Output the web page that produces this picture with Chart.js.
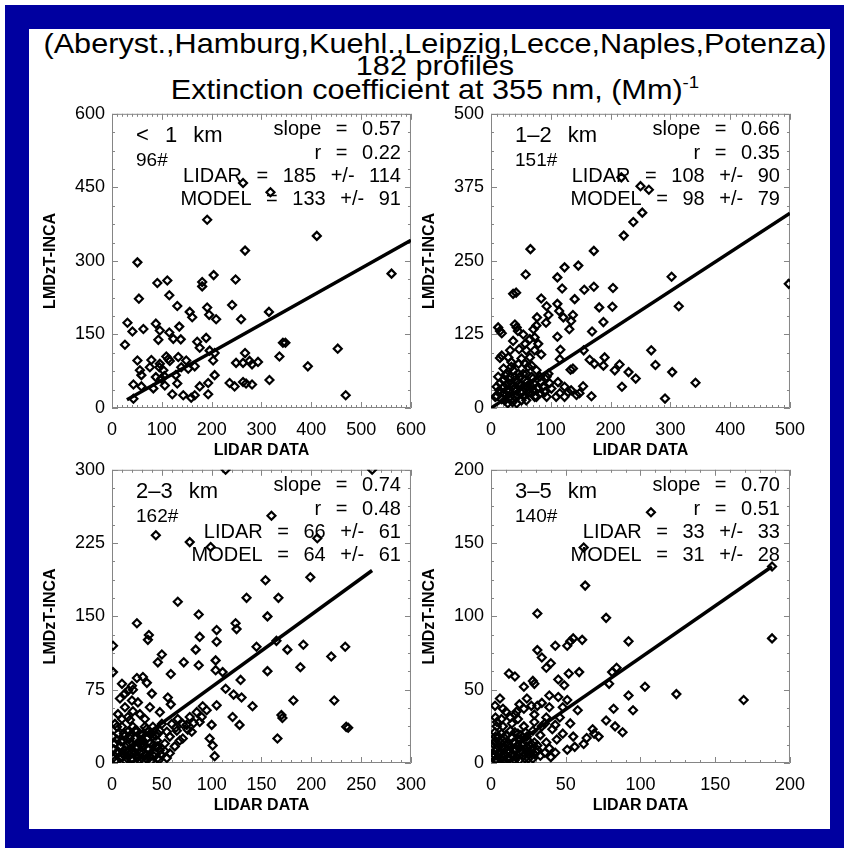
<!DOCTYPE html>
<html>
<head>
<meta charset="utf-8">
<script src="https://cdn.jsdelivr.net/npm/chart.js@4/dist/chart.umd.min.js"></script>
<style>
html,body{margin:0;padding:0;background:#fff;}
body{width:844px;height:848px;position:relative;overflow:hidden;font-family:"Liberation Sans",Arial,Helvetica,sans-serif;}
#blue{position:absolute;left:5px;top:5px;width:839px;height:843px;background:#0000a0;}
#white{position:absolute;left:29px;top:29px;width:801px;height:800px;background:#fff;}
.tl{position:absolute;left:435px;white-space:nowrap;font-size:28px;line-height:28px;color:#000;transform-origin:0 0;}
.tl sup{font-size:17px;vertical-align:11px;line-height:0;}
canvas{position:absolute;}
</style>
</head>
<body>
<div id="blue"></div>
<div id="white"></div>
<div class="tl" id="t1" style="top:30px">(Aberyst.,Hamburg,Kuehl.,Leipzig,Lecce,Naples,Potenza)</div>
<div class="tl" id="t2" style="top:52px">182 profiles</div>
<div class="tl" id="t3" style="top:76px">Extinction coefficient at 355 nm, (Mm)<sup>-1</sup></div>
<canvas id="c1" width="415" height="372" style="left:22px;top:96px"></canvas>
<canvas id="c2" width="415" height="372" style="left:401px;top:96px"></canvas>
<canvas id="c3" width="415" height="371" style="left:22px;top:452px"></canvas>
<canvas id="c4" width="415" height="371" style="left:401px;top:452px"></canvas>
<script>
// ---------------- data ----------------
const panelNames = ['< 1 km', '1\u20132 km', '2\u20133 km', '3\u20135 km'];
const profileCounts = ['96#', '151#', '162#', '140#'];
const slopes = ['0.57', '0.66', '0.74', '0.70'];
const corrs = ['0.22', '0.35', '0.48', '0.51'];
const lidarMean = [185, 108, 66, 33];
const lidarStd = [114, 90, 61, 33];
const modelMean = [133, 98, 64, 31];
const modelStd = [91, 79, 61, 28];

const xMaxs = [600, 500, 300, 200];
const xSteps = [100, 100, 50, 50];
const yMaxs = [600, 500, 300, 200];
const ySteps = [150, 125, 75, 50];

// panel 1 (< 1 km)
const lidar1 = [263,318,191,411,267,51,561,204,181,181,248,91,111,54,115,131,156,161,191,195,209,241,259,315,31,41,63,88,96,93,115,135,123,138,26,171,189,176,196,206,203,343,348,453,267,336,51,79,96,109,116,133,149,153,166,249,263,276,281,293,393,59,88,105,128,206,43,59,83,106,131,176,193,236,246,263,269,281,316,121,143,159,166,193,43,469,103,95,76,56,139,113,99];
const model1 = [459,440,384,351,321,297,274,271,257,248,262,255,260,223,230,208,196,185,205,190,181,210,181,196,174,156,161,172,158,139,154,166,141,140,129,135,143,123,117,112,97,133,133,121,112,105,97,98,90,105,96,104,97,80,85,92,92,96,89,94,85,67,63,65,67,67,48,44,40,46,50,44,51,51,44,53,50,48,57,28,26,21,26,28,19,26,77,83,83,77,83,100,60];
const fitX1 = [30, 600];
const fitY1 = [17, 342];

// panel 2 (1-2 km)
const lidar2 = [218,250,264,253,238,222,66,172,58,111,123,146,302,119,156,172,204,37,42,84,140,111,114,181,203,314,77,96,92,137,134,131,188,169,111,12,18,40,45,54,71,65,57,76,15,32,47,84,116,155,115,268,165,173,190,133,137,188,207,215,230,242,275,303,342,219,291,498,112,123,115,123,134,143,154,168,98,96,82,9.5,15,21,26,26,32,34,37,40,43,46,48,51,54,57,59,62,65,68,71,73,76,79,84,90,68,51,34,21,12,7,29,65,73,79,93,101,109,43,59,23,15,43,121,93,37,59,18,148,129,73,32,48,59,40,51,71,82,21,29,37,54,62,15,76,87,93,46,57,34,68,10,14,18,22,26,30,35,38,42,45,50,55,60,64,70,24,28,36];
const model2 = [392,377,371,332,316,293,270,267,227,222,239,242,223,203,201,206,204,194,196,186,185,177,165,171,172,173,154,158,145,158,148,134,146,130,121,137,127,142,131,125,134,117,109,140,85,98,100,91,99,98,83,98,82,75,86,65,67,72,64,74,61,50,73,61,43,36,16,211,44,36,25,19,30,22,37,20,42,58,53,36,25,47,58,30,19,42,64,53,30,75,42,25,58,47,36,70,27,53,42,19,64,33,44,27,72,84,78,67,53,19,86,86,98,109,53,33,19,8,13,13,131,137,154,173,114,98,89,25,27,120,53,53,58,19,13,30,25,36,42,39,36,25,42,19,36,19,58,75,70,36,20,30,15,26,40,28,16,32,45,22,38,20,44,32,50,55,8,10];
const fitX2 = [0, 500];
const fitY2 = [0, 331];

// panel 3 (2-3 km)
const lidar3 = [114,261,160,44,78,99,206,154,199,66,135,167,87,156,25,37,36,88,105,105,124,125,1,50,46,84,72,87,104,104,111,145,165,176,192,220,234,189,156,59,1,10,25,31,35,40,56,59,21,20,26,38,48,105,114,122,130,129,141,182,223,170,171,121,128,91,85,78,71,64,100,98,101,103,166,235,237,55,68,76,82,90,58,53,46,41,33,28,21,13,8,13,16,20,5,3,6,3,5,10,11,13,15,16,18,20,21,23,25,26,28,30,31,33,35,36,38,40,41,43,45,48,50,8,10,1,1,6,16,21,30,36,41,46,53,63,71,25,13,18,10,31,66,60,95,88,75,58,48,28,35,21,11,18,38,55,46,65,80,28,4,8,12,14,17,19,22,24,27,29,32,34,37,39,42,44,47,49,6,9,12,15,18,23,27,31,35,2,5,44];
const model3 = [300,300,253,233,226,221,230,187,190,165,169,169,152,150,143,131,126,129,136,124,143,137,120,111,103,116,103,100,105,95,93,119,125,116,121,109,119,98,94,91,93,81,87,88,82,71,67,60,75,64,62,57,52,59,76,70,67,85,58,64,64,49,46,47,39,58,52,47,40,36,39,25,18,7,25,37,36,32,23,34,41,47,10,20,30,37,45,50,53,57,66,71,74,79,37,40,30,20,10,37,23,13,5,32,20,10,37,25,15,6,30,20,10,37,25,15,6,30,18,10,23,13,40,17,6,5,27,50,47,13,5,32,27,5,12,17,25,33,28,44,45,18,45,40,54,42,39,27,33,10,4,4,10,25,20,5,17,33,32,23,3,5,8,2,12,4,9,16,3,12,22,8,14,2,7,17,3,9,12,22,30,18,28,33,20,29,35,14,24,28];
const fitX3 = [3, 261];
const fitY3 = [6, 197];

// panel 4 (3-5 km)
const lidar4 = [107,62,63,31,77,188,92,43,51,53,55,61,31,34,40,37,12,16,22,28,29,45,52,59,49,81,84,79,103,124,169,92,95,82,77,83,88,58,51,45,39,34,24,22,17,6,2.7,7,3,13,18,29,36,41,43,48,37,39,51,40,68,69,72,62,64,28,24,26,31,34,22,19,16,14,10,8,5,1.6,3.8,1.6,6,7,9,11.6,12.7,15,17,18,20.4,22.7,24,26,28,29,33,2.7,3.8,9,14,5,8,11.6,16,19,21.6,25,15,6,2.7,27,16,10,19,27,31,37,46,53,44,56,33,43,36,8,0.4,188,48,39,55,18,7,13,23,29,4,24,14,29,3,20,2,4,6,8,10,12,13,15,17,19,21,23,25,27,30,3,5,9,11,14,20,31];
const model4 = [171,147,121,102,99,85,83,80,80,83,85,84,77,72,68,65,61,59,52,56,54,57,61,62,53,62,65,54,52,47,43,46,36,37,29,25,21,36,43,45,46,41,44,37,35,44,39,30,31,31,30,33,27,23,26,20,14,10,9,4,23,20,18,13,17,22,18,12,9,25,25,16,21,27,19,25,18,13,9,4,3,11,6,13,3,9,4,12,8,3,11,7,3,14,5,21,25,14,17,6,2,9,2,10,5,15,14,14,2,9,33,35,40,39,39,31,31,27,16,11,19,7,7,37,11,134,38,38,18,20,20,22,21,28,28,8,6,6,18,16,6,2,8,4,1,7,11,5,9,2,12,6,3,13,8,15,11,17,3,1,19,12];
const fitX4 = [1, 188];
const fitY4 = [2, 134];

// ---------------- layout ----------------
const t1 = document.getElementById('t1');
const s = 783 / t1.getBoundingClientRect().width;
['t1','t2','t3'].forEach(id => {
  const el = document.getElementById(id);
  const w = el.getBoundingClientRect().width;
  el.style.transform = 'translateX(' + (-w * s / 2) + 'px) scaleX(' + s + ')';
});

const FONT = "'Liberation Sans', Arial, Helvetica, sans-serif";
const lidarSets = [lidar1, lidar2, lidar3, lidar4];
const modelSets = [model1, model2, model3, model4];
const fitXs = [fitX1, fitX2, fitX3, fitX4];
const fitYs = [fitY1, fitY2, fitY3, fitY4];
const xMinorDiv = [10, 10, 5, 5];
const yMinorDiv = [4, 4, 4, 4];

function makeFramePlugin(i) {
  return {
    id: 'idlFrame' + i,
    beforeDatasetsDraw(chart) {
      const {ctx, chartArea: a, scales} = chart;
      const xs = scales.x, ys = scales.y;
      ctx.save();
      ctx.strokeStyle = '#858585';
      ctx.lineWidth = 1;
      ctx.beginPath();
      ctx.rect(a.left + 0.5, a.top + 0.5, a.right - a.left - 1, a.bottom - a.top - 1);
      const xstep = xSteps[i] / xMinorDiv[i];
      const nx = Math.round(xMaxs[i] / xstep);
      for (let k = 0; k <= nx; k++) {
        const len = (k % xMinorDiv[i] === 0) ? 6 : 3;
        const p = Math.round(xs.getPixelForValue(k * xstep)) + 0.5;
        ctx.moveTo(p, a.bottom); ctx.lineTo(p, a.bottom - len);
        ctx.moveTo(p, a.top); ctx.lineTo(p, a.top + len);
      }
      const ystep = ySteps[i] / yMinorDiv[i];
      const ny = Math.round(yMaxs[i] / ystep);
      for (let k = 0; k <= ny; k++) {
        const len = (k % yMinorDiv[i] === 0) ? 6 : 3;
        const p = Math.round(ys.getPixelForValue(k * ystep)) + 0.5;
        ctx.moveTo(a.left, p); ctx.lineTo(a.left + len, p);
        ctx.moveTo(a.right, p); ctx.lineTo(a.right - len, p);
      }
      ctx.stroke();
      ctx.restore();
    },
    afterDatasetsDraw(chart) {
      const {ctx, chartArea: a} = chart;
      ctx.save();
      ctx.fillStyle = '#000';
      ctx.textBaseline = 'middle';
      try { ctx.wordSpacing = '10px'; } catch (e) {}
      ctx.textAlign = 'left';
      ctx.font = '22px ' + FONT;
      ctx.fillText(panelNames[i], a.left + 24, a.top + 22);
      try { ctx.wordSpacing = '0px'; } catch (e) {}
      ctx.font = '19px ' + FONT;
      ctx.fillText(profileCounts[i], a.left + 24, a.top + 47);
      try { ctx.wordSpacing = '9px'; } catch (e) {}
      ctx.textAlign = 'right';
      ctx.font = '20px ' + FONT;
      const rx = a.right - 10;
      ctx.fillText('slope = ' + slopes[i], rx, a.top + 16);
      ctx.fillText('r = ' + corrs[i], rx, a.top + 40);
      ctx.fillText('LIDAR = ' + lidarMean[i] + ' +/- ' + lidarStd[i], rx, a.top + 63);
      ctx.fillText('MODEL = ' + modelMean[i] + ' +/- ' + modelStd[i], rx, a.top + 86);
      ctx.restore();
    }
  };
}

function buildChart(i) {
  const pts = lidarSets[i].map((v, k) => ({x: v, y: modelSets[i][k]}));
  const fit = fitXs[i].map((v, k) => ({x: v, y: fitYs[i][k]}));
  return new Chart(document.getElementById('c' + (i + 1)), {
    type: 'scatter',
    data: {
      datasets: [
        {data: pts, showLine: false, pointStyle: 'rectRot', pointRadius: 4, pointBorderWidth: 2.2,
         pointBorderColor: '#000', pointBackgroundColor: 'rgba(0,0,0,0)', clip: 0},
        {data: fit, showLine: true, borderColor: '#000', borderWidth: 3.5, pointRadius: 0, clip: 0}
      ]
    },
    options: {
      responsive: false,
      animation: false,
      events: [],
      layout: {padding: {left: 0, right: 25, top: 15, bottom: 0}},
      plugins: {legend: {display: false}, tooltip: {enabled: false}},
      scales: {
        x: {
          type: 'linear', min: 0, max: xMaxs[i],
          ticks: {stepSize: xSteps[i], color: '#000', font: {size: 18, family: FONT}, padding: 11, maxRotation: 0, autoSkip: false},
          grid: {display: false, drawTicks: false},
          border: {display: false},
          title: {display: true, text: 'LIDAR DATA', color: '#000', font: {size: 16, weight: 'bold', family: FONT}, padding: {top: 0, bottom: 8}},
          afterFit(scale) { scale.height = 60; }
        },
        y: {
          type: 'linear', min: 0, max: yMaxs[i],
          ticks: {stepSize: ySteps[i], color: '#000', font: {size: 18, family: FONT}, padding: 7, autoSkip: false},
          grid: {display: false, drawTicks: false},
          border: {display: false},
          title: {display: true, text: 'LMDzT-INCA', color: '#000', font: {size: 16, weight: 'bold', family: FONT}, padding: {top: 19, bottom: 0}},
          afterFit(scale) { scale.width = 90; }
        }
      }
    },
    plugins: [makeFramePlugin(i)]
  });
}
[0, 1, 2, 3].forEach(buildChart);
</script>
</body>
</html>
